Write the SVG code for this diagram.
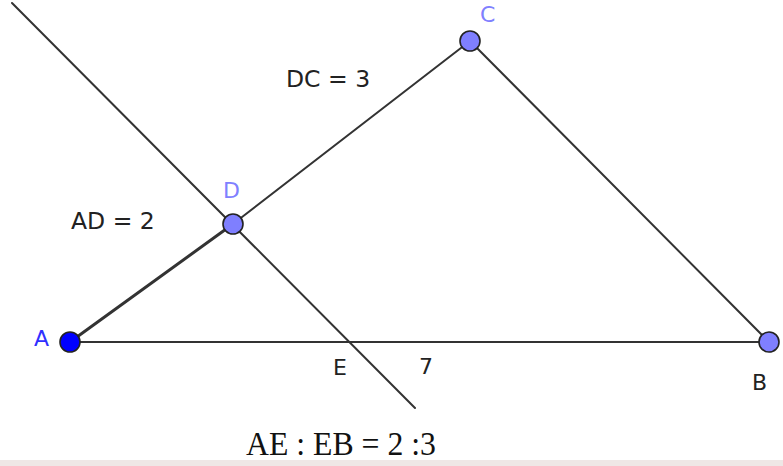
<svg xmlns="http://www.w3.org/2000/svg" width="783" height="466" viewBox="0 0 783 466">
<style>
.ln{stroke:#333;stroke-width:2;fill:none;stroke-linecap:round}
.pt{stroke:#222;stroke-width:1.6}
.lbl{font-family:"DejaVu Sans",sans-serif;font-size:22px;fill:#222}
.big{font-size:23.5px}
.plbl{font-family:"DejaVu Sans",sans-serif;font-size:22px;fill:#8080ff}
</style>
<rect width="783" height="466" fill="#fff"/>
<rect x="0" y="460" width="783" height="6" fill="#efe7e6"/>
<g id="connectors">
<line class="ln" x1="70" y1="342" x2="769" y2="342"/>
<line class="ln" x1="70" y1="342" x2="233" y2="224" style="stroke-width:3"/>
<line class="ln" x1="233" y1="224" x2="470" y2="41"/>
<line class="ln" x1="470" y1="41" x2="769" y2="342"/>
<line class="ln" x1="12" y1="3" x2="415" y2="408"/>
</g>
<g id="A"><circle class="pt" cx="70" cy="342" r="10" fill="#0000ff"/><text class="plbl" x="34" y="346" style="fill:#3030ff">A</text></g>
<g id="B"><circle class="pt" cx="769" cy="342" r="10" fill="#7f7fff"/><text class="lbl" x="752" y="390">B</text></g>
<g id="C"><circle class="pt" cx="470" cy="41" r="10" fill="#7f7fff"/><text class="plbl" x="480" y="22">C</text></g>
<g id="D"><circle class="pt" cx="233" cy="224" r="10" fill="#7f7fff"/><text class="plbl" x="223" y="198">D</text></g>
<g id="E"><text class="lbl" x="333" y="375">E</text></g>
<g id="labels">
<text class="lbl big" x="286" y="87">DC = 3</text>
<text class="lbl big" x="71" y="229">AD = 2</text>
<text class="lbl" x="419" y="374">7</text>
<text x="341" y="455" text-anchor="middle" font-family="Liberation Serif, serif" font-size="33" fill="#111" textLength="190" lengthAdjust="spacingAndGlyphs">AE : EB = 2 :3</text>
</g>
</svg>
